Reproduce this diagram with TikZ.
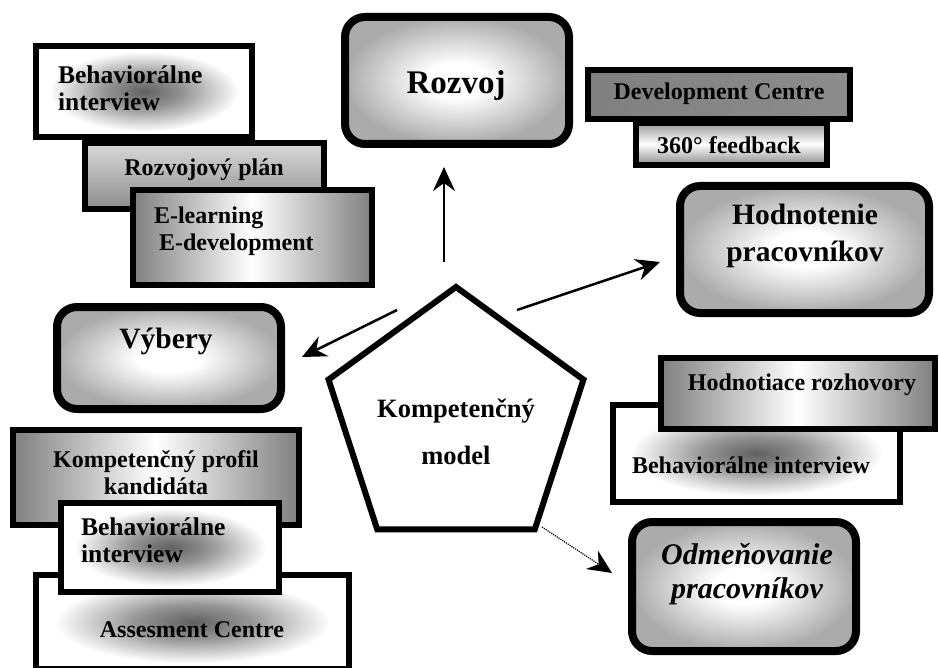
\documentclass[tikz,border=0pt]{standalone}
\usepackage{fontspec}
\setmainfont{Liberation Serif}
\usetikzlibrary{arrows.meta,shapes}
\pgfdeclareradialshading{darkmid}{\pgfpoint{0bp}{0bp}}{color(0bp)=(black!62); color(9bp)=(black!42); color(22bp)=(white); color(50bp)=(white)}
\pgfdeclareradialshading{lightmid}{\pgfpoint{0bp}{0bp}}{color(0bp)=(white); color(7bp)=(white); color(25bp)=(black!33); color(50bp)=(black!33)}

\begin{document}
\begin{tikzpicture}[x=1pt,y=-1pt]
\useasboundingbox (0,0) rectangle (939,668);
\clip (0,0) rectangle (939,668);
\begin{scope}
\tikzstyle{every node}=[inner sep=0pt, outer sep=0pt];
\tikzstyle{box}=[draw, rectangle, line width=6pt];
\tikzstyle{main}=[draw, rectangle, line width=8pt, rounded corners=20pt, shading=lightmid];
\tikzstyle{hshade}=[box, left color=gray, right color=gray, middle color=white];
\tikzstyle{vshade}=[box, top color=black!40, bottom color=black!45, middle color=white];
\tikzstyle{dark}=[box, shading=darkmid];
\tikzstyle{big}=[font=\fontsize{29.5}{37}\selectfont\bfseries, align=center];
\tikzstyle{small}=[font=\fontsize{24}{27}\selectfont\bfseries];
\tikzstyle{arr}=[line width=2.5pt, -{Stealth[length=24pt,width=22pt,inset=8pt]}];

% rozvoj
\draw (144,91.5) node[dark, minimum width=216, minimum height=91] (s1) {};
\draw (58,88) node[small, font=\fontsize{25.5}{27}\selectfont\bfseries, align=left, anchor=west] (t1) {Behaviorálne\\interview};
\draw (204.5,176) node[vshade, top color=black!15, minimum width=239, minimum height=66] (s2) {};
\draw (204,170) node[small] (t2) {Rozvojový plán};
\draw (252.5,237.5) node[hshade, minimum width=239, minimum height=95] (s3) {};
\draw (154,231) node[small, align=left, anchor=west] (t3) {E-learning\\\hspace{5pt}E-development};
\draw (457,80.5) node[main, minimum width=224, minimum height=127] (m1) {};
\draw (456,86) node[big, font=\fontsize{33}{37}\selectfont\bfseries] (t4) {Rozvoj};
\draw (719,94.5) node[hshade, right color=black!45, minimum width=262, minimum height=49] (s4) {};
\draw (719,94) node[small] (t5) {Development Centre};
\draw (731.5,144) node[vshade, minimum width=191, minimum height=42] (s5) {};
\draw (729,145) node[small] (t6) {360° feedback};

% hodnotenie
\draw (804.5,249.5) node[main, minimum width=249, minimum height=127] (m2) {};
\draw (805,236) node[big] (t7) {Hodnotenie\\pracovníkov};

% vybery
\draw (169,358) node[main, minimum width=224, minimum height=102] (m3) {};
\draw (166,341) node[big] (t8) {Výbery};
\draw (156,477.5) node[hshade, minimum width=286, minimum height=95] (s6) {};
\draw (156,473) node[small, align=center] (t9) {Kompetenčný profil\\kandidáta};
\draw (192.5,622) node[dark, minimum width=313, minimum height=94] (s7) {};
\draw (192,630) node[small] (t11) {Assesment Centre};
\draw (170,547.5) node[dark, minimum width=218, minimum height=89] (s8) {};
\draw (81,540) node[small, font=\fontsize{25.5}{27}\selectfont\bfseries, align=left, anchor=west] (t10) {Behaviorálne\\interview};

% kompetencny model
\draw (456,421) node[draw, shape=regular polygon, regular polygon sides=5, minimum size=268, line width=6pt] (k) {};
\draw (456,432) node[font=\fontsize{26.5}{47}\selectfont\bfseries, align=center] (t12) {Kompetenčný\\model};

% odmenovanie
\draw (756.5,453.5) node[dark, minimum width=287, minimum height=97] (s9) {};
\draw (751,465) node[small] (t14) {Behaviorálne interview};
\draw (798,393.5) node[hshade, minimum width=274, minimum height=71] (s10) {};
\draw (802,385) node[small] (t13) {Hodnotiace rozhovory};
\draw (744,586.5) node[main, minimum width=224, minimum height=129] (m4) {};
\draw (747,574) node[big, font=\fontsize{30}{34}\selectfont\bfseries\itshape] (t15) {Odmeňovanie\\pracovníkov};

% sipky
\coordinate (a1) at (444,262);
\coordinate (a2) at (444,167);
\coordinate (b1) at (517,310);
\coordinate (b2) at (660,262);
\coordinate (c1) at (397,310);
\coordinate (c2) at (302,357);
\coordinate (d1) at (542,527);
\coordinate (d2) at (612,573);
\draw[arr] (a1) -- (a2);
\draw[arr] (b1) -- (b2);
\draw[arr] (c1) -- (c2);
\draw[arr, line width=1.2pt, densely dotted] (d1) -- (d2);
\end{scope}
\end{tikzpicture}
\end{document}
